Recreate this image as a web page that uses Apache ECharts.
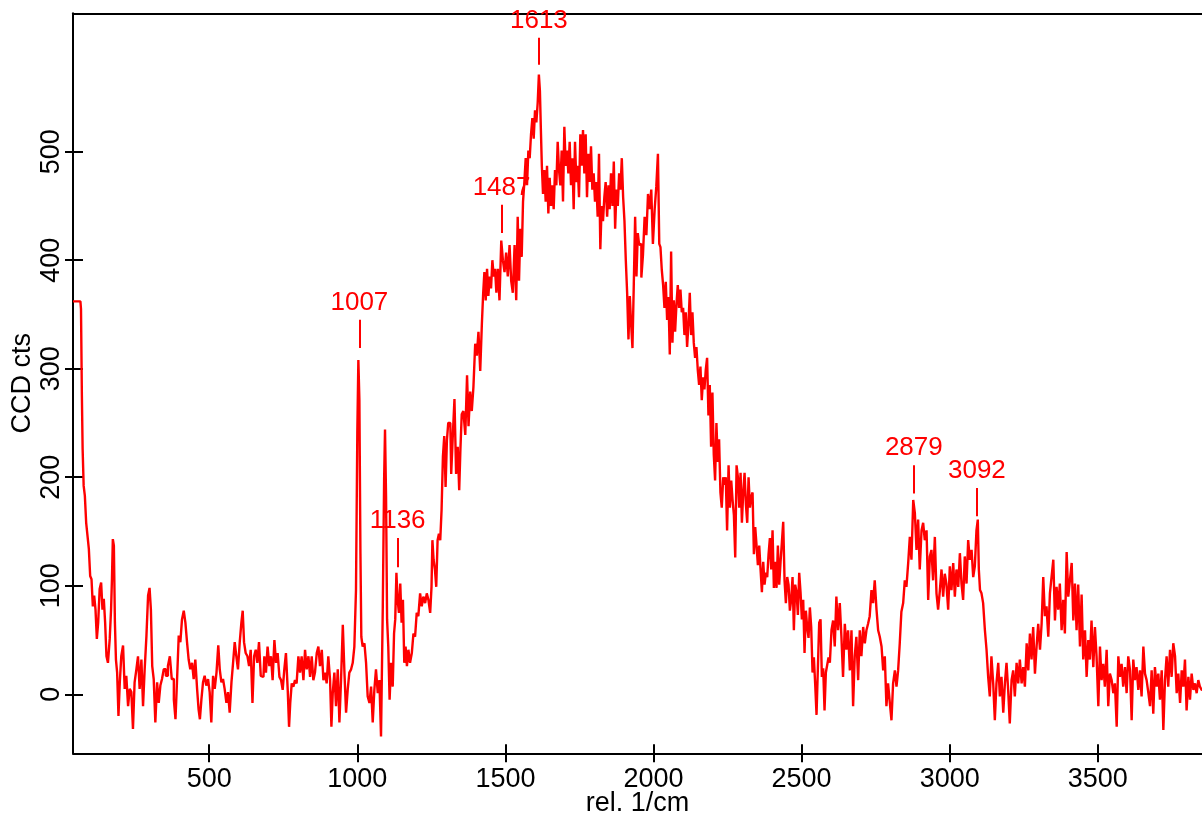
<!DOCTYPE html>
<html><head><meta charset="utf-8">
<script src="https://cdn.jsdelivr.net/npm/echarts@6/dist/echarts.min.js"></script>
<style>html,body{margin:0;padding:0;background:#fff}#c{width:1202px;height:817px}</style>
</head><body><div id="c"></div>
<script>
// Raman spectrum: [wavenumber (rel. 1/cm), CCD counts]
const spectrumLow = [[40,362],[65,362],[69,355],[71,275],[74,226],[78,192],[82,183],[87,158],[91,146],[96,134],[100,109],[105,106],[109,81],[114,91],[118,78],[123,51],[127,66],[133,97],[137,103],[142,78],[146,88],[151,66],[155,35],[161,29],[167,51],[170,78],[173,106],[176,143],[180,137],[183,66],[187,32],[191,20],[196,-20],[200,11],[206,35],[212,45],[217,5],[223,17],[229,-11],[234,5],[240,2],[245,-32],[251,11],[257,23],[262,35],[268,5],[274,32],[279,-11],[285,23],[291,54],[296,91],[301,98],[305,78],[310,26],[315,14],[321,-26],[327,11],[332,-8],[338,8],[343,14],[350,23],[357,17],[364,26],[370,35],[377,14],[384,-5],[388,-23],[394,11],[400,54],[405,48],[411,69],[417,77],[422,66],[428,48],[433,32],[439,23],[445,29],[450,14],[456,32],[462,5],[466,-14],[471,-23],[476,-5],[482,11],[487,17],[493,8],[499,14],[504,2],[510,-26],[516,17],[521,5],[528,20],[533,45],[538,23],[544,11],[549,14],[555,5],[561,-8],[566,2],[572,-17],[578,11],[583,29],[589,48],[594,35],[600,23],[606,48],[611,66],[615,77],[620,48],[626,38],[632,35],[637,26],[643,41],[649,-8],[654,35],[660,41],[665,29],[671,48],[677,17]];
const spectrumFingerprint = [[683,16],[689,35],[694,20],[700,44],[706,26],[711,35],[717,13],[723,50],[728,29],[734,38],[740,16],[745,13],[751,4],[756,23],[762,38],[768,4],[771,-30],[776,-8],[781,10],[787,7],[792,13],[798,10],[804,35],[809,20],[815,35],[821,13],[826,41],[832,23],[838,35],[843,16],[849,35],[854,13],[860,20],[866,38],[871,44],[877,26],[883,41],[888,13],[894,20],[899,10],[905,35],[911,13],[914,-30],[920,1],[925,20],[931,-11],[937,23],[942,-26],[948,13],[954,64],[959,20],[965,-17],[970,4],[976,20],[982,23],[987,29],[993,44],[998,96],[1002,241],[1005,308],[1009,271],[1012,130],[1015,53],[1021,44],[1027,47],[1032,29],[1038,-2],[1044,-8],[1049,7],[1055,-26],[1060,4],[1066,23],[1072,1],[1077,13],[1083,-39],[1089,81],[1092,198],[1095,244],[1099,182],[1102,69],[1107,44],[1111,-5],[1117,29],[1122,7],[1126,56],[1130,69],[1134,112],[1138,87],[1143,75],[1147,102],[1152,66],[1156,87],[1161,29],[1165,44],[1170,26],[1175,41],[1181,29],[1187,38],[1192,56],[1198,53],[1203,75],[1209,72],[1215,93],[1220,81],[1226,90],[1232,84],[1237,93],[1243,87],[1249,75],[1252,99],[1255,142],[1260,124],[1264,115],[1269,99],[1273,142],[1278,148],[1282,142],[1287,170],[1291,219],[1296,238],[1300,191],[1305,234],[1309,250]];
const spectrumBroad = [[1314,250],[1320,203],[1325,239],[1331,272],[1336,203],[1342,228],[1346,188],[1350,225],[1355,258],[1361,261],[1368,239],[1373,294],[1378,247],[1384,279],[1389,261],[1395,283],[1401,323],[1406,312],[1412,334],[1418,298],[1423,341],[1427,370],[1431,389],[1436,363],[1440,392],[1445,367],[1449,385],[1454,374],[1458,400],[1463,385],[1467,392],[1472,370],[1477,392],[1483,363],[1489,418],[1494,400],[1500,389],[1505,407],[1511,385],[1517,414],[1522,381],[1528,370],[1534,414],[1539,363],[1544,440],[1548,381],[1553,429],[1557,403],[1562,454],[1566,472],[1571,494],[1575,469],[1580,501],[1584,494],[1589,516],[1593,531],[1598,512],[1602,538],[1607,527],[1611,545],[1615,571],[1618,556],[1621,523],[1625,487],[1629,461],[1634,483],[1638,454],[1643,487],[1647,443],[1652,476],[1656,450],[1661,469],[1665,447],[1670,483],[1674,469],[1679,509],[1683,483],[1688,469],[1692,501],[1697,454],[1701,523],[1706,487],[1710,501],[1715,480],[1719,509],[1724,469],[1728,494],[1733,447],[1737,509],[1742,472],[1746,487],[1751,458],[1755,516],[1760,487],[1764,520],[1769,480],[1773,516],[1778,458],[1782,498],[1787,472],[1791,505],[1796,465],[1800,480],[1805,454],[1809,472],[1814,440],[1818,498],[1823,410],[1827,450],[1832,436],[1836,458],[1841,472],[1846,440],[1850,469],[1854,447],[1859,480],[1864,450],[1868,491],[1873,429],[1877,465],[1882,450],[1886,480],[1891,465],[1895,494],[1900,458],[1904,436],[1909,400],[1913,370],[1918,327],[1922,367],[1927,341],[1931,319],[1936,378],[1940,440],[1945,385],[1949,425],[1954,414]];
const spectrumDecay = [[1956,415],[1962,384],[1967,405],[1973,440],[1979,423],[1984,461],[1990,447],[1995,465],[2001,415],[2007,447],[2012,468],[2018,498],[2021,415],[2026,412],[2030,391],[2035,377],[2039,356],[2044,380],[2048,345],[2053,366],[2057,313],[2062,408],[2066,324],[2071,363],[2075,334],[2080,359],[2084,377],[2089,356],[2093,373],[2098,352],[2102,356],[2107,331],[2111,352],[2116,320],[2120,341],[2125,370],[2129,331],[2134,352],[2138,324],[2143,310],[2147,320],[2152,299],[2156,285],[2161,302],[2165,271],[2170,292],[2174,281],[2179,299],[2183,310],[2188,257],[2192,285],[2197,228],[2201,278],[2206,221],[2210,197],[2215,250],[2219,214],[2224,235],[2228,186],[2233,172],[2238,200],[2242,193],[2246,200],[2251,151],[2256,211],[2260,172],[2265,197],[2269,179],[2274,165],[2278,126],[2283,211],[2287,200],[2292,172],[2296,204],[2301,158],[2305,186],[2310,204],[2314,175],[2319,158],[2323,200],[2328,172],[2332,182],[2337,186],[2341,129],[2346,154],[2350,137],[2355,119],[2359,137],[2364,115],[2368,94],[2373,122],[2377,101],[2382,112],[2386,108],[2391,129],[2395,144],[2400,115],[2404,151],[2409,98],[2413,122],[2418,98],[2422,137],[2427,101],[2431,122],[2436,140],[2440,159],[2445,105],[2449,84],[2454,108],[2458,101],[2463,77],[2467,87],[2472,108],[2476,59],[2481,101],[2485,94],[2490,73],[2494,112],[2499,94],[2503,69],[2508,87],[2512,38],[2517,77],[2521,62],[2526,52],[2530,80],[2535,62],[2539,20],[2544,34],[2548,9],[2553,-19],[2557,24],[2562,66],[2566,69],[2571,16],[2575,24],[2580,-15],[2584,20],[2589,27],[2593,34]];
const spectrumCH = [[2598,29],[2604,59],[2609,68],[2615,44],[2620,90],[2626,59],[2632,84],[2637,53],[2643,16],[2649,65],[2654,41],[2660,59],[2666,22],[2671,59],[2677,-11],[2682,35],[2688,53],[2694,13],[2699,59],[2705,35],[2711,62],[2716,47],[2722,59],[2727,65],[2733,72],[2739,96],[2744,84],[2750,105],[2756,78],[2761,59],[2767,53],[2773,44],[2778,22],[2784,35],[2789,-11],[2795,10],[2801,-8],[2806,-24],[2812,10],[2818,22],[2823,7],[2829,22],[2834,47],[2840,76],[2846,84],[2851,105],[2857,99],[2863,121],[2868,145],[2874,124],[2880,179],[2885,167],[2891,133],[2896,161],[2902,115],[2908,151],[2913,158],[2919,142],[2925,151],[2930,87],[2936,127],[2941,133],[2947,105],[2953,145],[2958,93],[2964,78],[2970,96],[2975,115],[2981,90],[2986,111],[2992,102],[2998,78],[3003,118],[3009,96],[3015,121],[3020,90],[3026,115],[3032,99],[3037,130],[3043,102],[3048,87],[3054,127],[3060,102],[3065,142],[3071,124],[3077,133],[3082,108],[3088,118],[3093,151],[3097,161],[3100,115],[3105,96],[3110,93],[3116,84],[3122,59],[3127,41],[3133,16],[3138,-2],[3144,35],[3150,10],[3155,-24],[3161,10],[3167,29],[3172,-2],[3178,16],[3184,-17],[3189,10],[3195,29],[3200,4],[3206,-27],[3212,13],[3217,22],[3223,-2],[3229,29],[3234,10]];
const spectrumHigh = [[3240,32],[3246,10],[3251,25],[3257,7],[3263,47],[3268,22],[3274,56],[3279,32],[3285,62],[3291,19],[3296,44],[3302,65],[3308,41],[3313,65],[3319,108],[3324,72],[3330,81],[3336,53],[3341,93],[3347,108],[3353,124],[3358,68],[3364,99],[3369,78],[3375,102],[3381,59],[3386,87],[3392,56],[3398,131],[3403,90],[3409,105],[3415,121],[3420,68],[3426,102],[3431,59],[3437,101],[3443,44],[3448,92],[3454,32],[3460,59],[3465,16],[3471,50],[3476,32],[3482,68],[3488,25],[3493,62],[3499,35],[3505,-11],[3510,44],[3516,13],[3521,28],[3527,7],[3533,41],[3538,-11],[3544,19],[3550,13],[3555,1],[3561,10],[3567,-30],[3572,35],[3578,16],[3583,28],[3589,7],[3595,25],[3600,1],[3606,35],[3612,22],[3617,-24],[3623,32],[3628,13],[3634,25],[3640,4],[3645,22],[3651,-2],[3657,44],[3662,19],[3668,13],[3674,1],[3679,-11],[3685,22],[3690,-18],[3696,25],[3702,7],[3707,19],[3713,-5],[3719,22],[3724,-33],[3730,13],[3735,35],[3741,7],[3747,41],[3752,16],[3758,47],[3764,35],[3769,1],[3775,19],[3781,-8],[3786,22],[3792,7],[3797,32],[3803,-15],[3809,16],[3814,-5],[3820,19],[3826,4],[3831,10],[3837,1],[3842,13],[3848,7],[3854,4]];

const xTickValues = [500, 1000, 1500, 2000, 2500, 3000, 3500];
const yTickValues = [0, 100, 200, 300, 400, 500];
const peakLabels = ['1007', '1136', '1487', '1613', '2879', '3092'];
const peakPositions = [1007, 1136, 1487, 1613, 2879, 3092];
const peakMarkLow = [319, 117, 425, 580, 185, 164];
const peakMarkHigh = [345, 144, 451, 605, 211, 190];
const xTitle = 'rel. 1/cm';
const yTitle = 'CCD cts';

const X_MIN = 40, X_MAX = 3852, Y_MIN = -54.4, Y_MAX = 627.5;
const FONT = '"Liberation Sans", Arial, sans-serif';
const BLACK = '#000000', RED = '#ff0000';

const spectrum = [].concat(spectrumLow, spectrumFingerprint, spectrumBroad, spectrumDecay, spectrumCH, spectrumHigh);

const chart = echarts.init(document.getElementById('c'), null, { renderer: 'canvas' });

function plain(v) { return String(v); }

function xAx(extra) {
  return Object.assign({
    type: 'value', min: X_MIN, max: X_MAX, position: 'bottom',
    splitLine: { show: false },
    axisLine: { show: false, onZero: false },
    axisTick: { show: false },
    axisLabel: { show: false }
  }, extra);
}
function yAx(extra) {
  return Object.assign({
    type: 'value', min: Y_MIN, max: Y_MAX, position: 'left',
    splitLine: { show: false },
    axisLine: { show: false, onZero: false },
    axisTick: { show: false },
    axisLabel: { show: false }
  }, extra);
}

chart.setOption({
  animation: false,
  backgroundColor: '#ffffff',
  grid: { left: 73, right: 0, top: 13.3, bottom: 63.7, containLabel: false, outerBoundsMode: 'none' },
  xAxis: [
    xAx({
      axisLine: { show: true, onZero: false, lineStyle: { color: BLACK, width: 2 } },
      axisTick: { show: true, inside: false, length: 9, customValues: xTickValues, lineStyle: { color: BLACK, width: 2 } },
      axisLabel: { show: true, customValues: xTickValues, formatter: plain, fontSize: 27, fontFamily: FONT, color: BLACK, margin: 13 },
      name: xTitle, nameLocation: 'middle', nameGap: 37, nameMoveOverlap: false,
      nameTextStyle: { fontSize: 27, fontFamily: FONT, color: BLACK }
    }),
    xAx({
      axisTick: { show: true, inside: true, length: 9, customValues: xTickValues, lineStyle: { color: BLACK, width: 2 } }
    }),
    xAx({
      position: 'top',
      axisLine: { show: true, onZero: false, lineStyle: { color: BLACK, width: 2 } }
    })
  ],
  yAxis: [
    yAx({
      axisLine: { show: true, onZero: false, lineStyle: { color: BLACK, width: 2 } },
      axisTick: { show: true, inside: false, length: 8, customValues: yTickValues, lineStyle: { color: BLACK, width: 2 } },
      axisLabel: { show: true, customValues: yTickValues, formatter: plain, rotate: 90, fontSize: 27, fontFamily: FONT, color: BLACK, margin: 8 },
      name: yTitle, nameLocation: 'middle', nameGap: 37, nameMoveOverlap: false,
      nameTextStyle: { fontSize: 27, fontFamily: FONT, color: BLACK }
    }),
    yAx({
      axisTick: { show: true, inside: true, length: 10, customValues: yTickValues, lineStyle: { color: BLACK, width: 2 } }
    })
  ],
  series: [{
    type: 'line',
    xAxisIndex: 0, yAxisIndex: 0,
    data: spectrum,
    step: 'middle',
    symbol: 'none', showSymbol: false,
    clip: true,
    lineStyle: { color: RED, width: 2.4 },
    emphasis: { disabled: true },
    markLine: {
      silent: true, animation: false,
      symbol: ['none', 'none'],
      lineStyle: { color: RED, width: 2, type: 'solid' },
      emphasis: { disabled: true },
      label: {
        show: true, position: 'end', distance: 4,
        formatter: function (p) { return p.name; },
        color: RED, fontSize: 26, fontFamily: FONT
      },
      data: peakPositions.map(function (p, i) {
        return [{ name: peakLabels[i], coord: [p, peakMarkLow[i]] }, { coord: [p, peakMarkHigh[i]] }];
      })
    }
  }]
});
</script>
</body></html>
